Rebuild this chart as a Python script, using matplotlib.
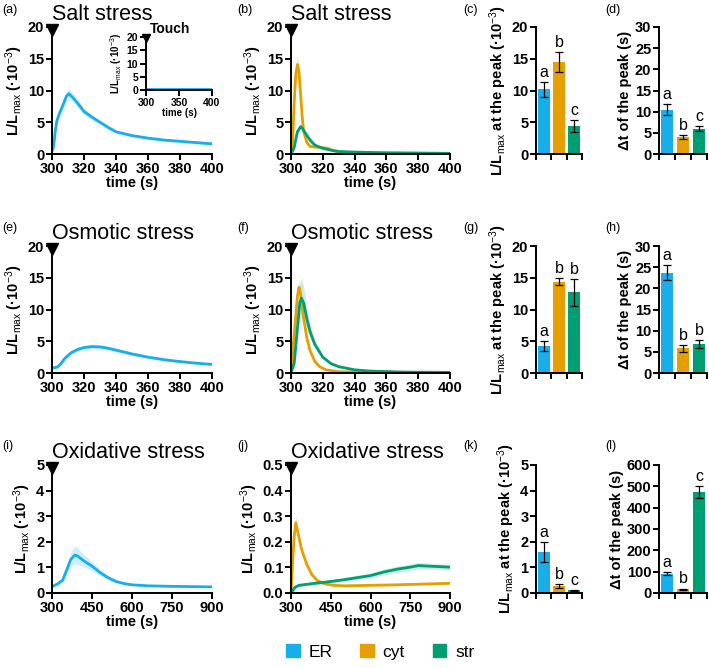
import matplotlib
matplotlib.use("Agg")
from matplotlib import pyplot as plt
from matplotlib.patches import Patch

plt.rcParams.update({
    "font.family": ["Liberation Sans", "DejaVu Sans"],
    "mathtext.fontset": "custom",
    "mathtext.rm": "Liberation Sans",
    "mathtext.bf": "Liberation Sans:bold",
    "mathtext.it": "Liberation Sans:italic",
    "axes.linewidth": 1.4,
    "xtick.major.width": 1.4,
    "ytick.major.width": 1.4,
    "xtick.major.size": 4,
    "ytick.major.size": 4,
    "xtick.major.pad": 1.5,
    "ytick.major.pad": 1.5,
    "xtick.direction": "out",
    "ytick.direction": "out",
})

W, H = 709, 668
C_ER, C_CYT, C_STR = "#17AEEA", "#E69F00", "#009E73"

# ---- time courses ----
# salt, ER
t_salt_er = [300, 301, 302, 303, 304.5, 307, 309, 310.5, 313, 316, 320, 325, 330, 335, 340, 350, 360, 370, 380, 390, 400]
salt_er = [0.4, 1.2, 3.5, 5.2, 6.3, 7.8, 9.1, 9.5, 8.9, 8.0, 6.7, 5.8, 5.0, 4.2, 3.5, 2.9, 2.5, 2.2, 2.0, 1.8, 1.6]
salt_er_sem = [0.1, 0.3, 0.5, 0.6, 0.6, 0.7, 0.8, 0.8, 0.7, 0.6, 0.5, 0.4, 0.3, 0.3, 0.2, 0.2, 0.2, 0.2, 0.2, 0.2, 0.2]
# touch (inset)
t_touch = [300, 320, 340, 360, 380, 400]
touch_er = [0.4, 0.4, 0.4, 0.4, 0.4, 0.4]
# salt, cyt / str
t_salt_cyt = [300, 301, 302, 303, 304, 305, 306, 307, 308, 310, 312, 315, 320, 323, 326, 330, 340, 360, 400]
salt_cyt = [0.0, 2.0, 8.0, 12.5, 14.1, 13.0, 9.5, 6.0, 3.5, 1.8, 1.2, 1.1, 1.0, 0.9, 0.6, 0.3, 0.15, 0.1, 0.05]
salt_cyt_sem = [0.0, 0.4, 1.0, 1.4, 1.5, 1.4, 1.0, 0.7, 0.4, 0.2, 0.2, 0.2, 0.2, 0.2, 0.1, 0.1, 0.05, 0.05, 0.05]
t_salt_str = [300, 302, 304, 306, 307, 309, 312, 315, 320, 325, 330, 340, 360, 400]
salt_str = [0.0, 1.0, 3.5, 4.3, 4.1, 3.3, 2.2, 1.4, 0.9, 0.6, 0.4, 0.3, 0.2, 0.1]
salt_str_sem = [0.0, 0.2, 0.4, 0.5, 0.5, 0.4, 0.3, 0.2, 0.1, 0.1, 0.1, 0.05, 0.05, 0.05]
# osmotic, ER
t_osm_er = [300, 303, 305, 308, 312, 316, 320, 325, 330, 335, 340, 350, 360, 370, 380, 390, 400]
osm_er = [0.8, 0.9, 1.3, 2.3, 3.2, 3.7, 4.0, 4.15, 4.1, 3.9, 3.6, 3.0, 2.5, 2.1, 1.8, 1.55, 1.35]
osm_er_sem = [0.1, 0.1, 0.2, 0.3, 0.3, 0.4, 0.4, 0.4, 0.4, 0.3, 0.3, 0.3, 0.2, 0.2, 0.2, 0.1, 0.1]
# osmotic, cyt / str
t_osm_cyt = [300, 302, 304, 305, 306, 308, 310, 312, 315, 318, 322, 330, 400]
osm_cyt = [0.5, 6.0, 12.0, 13.5, 12.5, 8.5, 5.5, 3.5, 1.8, 1.0, 0.5, 0.2, 0.05]
osm_cyt_sem = [0.1, 0.8, 1.2, 1.3, 1.2, 0.9, 0.6, 0.4, 0.2, 0.1, 0.1, 0.05, 0.05]
t_osm_str = [300, 302, 304, 305.5, 306.5, 308, 310, 312, 315, 320, 325, 330, 340, 350, 370, 400]
osm_str = [0.0, 1.5, 7.0, 11.0, 11.8, 11.0, 8.5, 6.5, 4.5, 2.5, 1.5, 1.0, 0.5, 0.3, 0.15, 0.1]
osm_str_sem = [0.0, 0.5, 2.0, 3.0, 3.2, 2.5, 1.5, 1.0, 0.6, 0.3, 0.2, 0.1, 0.1, 0.05, 0.05, 0.05]
# oxidative, ER
t_ox_er = [300, 320, 340, 355, 370, 385, 395, 420, 450, 480, 510, 540, 570, 600, 660, 750, 900]
ox_er = [0.25, 0.35, 0.5, 0.9, 1.3, 1.48, 1.45, 1.25, 1.05, 0.8, 0.6, 0.45, 0.37, 0.32, 0.28, 0.26, 0.24]
ox_er_sem = [0.03, 0.05, 0.1, 0.2, 0.3, 0.35, 0.33, 0.25, 0.18, 0.12, 0.08, 0.05, 0.04, 0.03, 0.03, 0.02, 0.02]
# oxidative, cyt / str
t_ox_cyt = [300, 305, 312, 318, 325, 340, 360, 380, 400, 430, 460, 500, 600, 700, 800, 900]
ox_cyt = [0.0, 0.1, 0.22, 0.275, 0.24, 0.17, 0.11, 0.07, 0.048, 0.035, 0.03, 0.028, 0.03, 0.032, 0.035, 0.038]
ox_cyt_sem = [0.0, 0.01, 0.02, 0.03, 0.02, 0.015, 0.01, 0.006, 0.005, 0.004, 0.004, 0.004, 0.004, 0.004, 0.005, 0.005]
t_ox_str = [300, 315, 330, 375, 450, 500, 550, 600, 650, 700, 750, 780, 820, 860, 900]
ox_str = [0.0, 0.022, 0.03, 0.036, 0.045, 0.052, 0.06, 0.068, 0.082, 0.093, 0.101, 0.107, 0.105, 0.103, 0.101]
ox_str_sem = [0.0, 0.004, 0.005, 0.006, 0.007, 0.008, 0.009, 0.01, 0.011, 0.012, 0.012, 0.012, 0.012, 0.011, 0.011]

# ---- peak summary bars: ER, cyt, str ----
compartments = ["ER", "cyt", "str"]
salt_peak = [10.2, 14.5, 4.4]
salt_peak_err = [1.2, 1.6, 1.0]
salt_peak_letters = ["a", "b", "c"]
salt_dt = [10.4, 4.0, 6.0]
salt_dt_err = [1.3, 0.4, 0.5]
salt_dt_letters = ["a", "b", "c"]
osm_peak = [4.2, 14.4, 12.7]
osm_peak_err = [0.8, 0.6, 2.1]
osm_peak_letters = ["a", "b", "b"]
osm_dt = [23.7, 5.8, 6.8]
osm_dt_err = [1.7, 0.9, 0.9]
osm_dt_letters = ["a", "b", "b"]
ox_peak = [1.6, 0.27, 0.1]
ox_peak_err = [0.4, 0.07, 0.03]
ox_peak_letters = ["a", "b", "c"]
ox_dt = [90, 18, 475]
ox_dt_err = [7, 3, 28]
ox_dt_letters = ["a", "b", "c"]

colors = [C_ER, C_CYT, C_STR]
YLAB = r"L/L$_{\rm max}$ (·10$^{-3}$)"
YLAB_PEAK = r"L/L$_{\rm max}$ at the peak (·10$^{-3}$)"
YLAB_DT = "Δt of the peak (s)"


def px_axes(fig, x0, x1, y0, y1):
    return fig.add_axes([x0 / W, 1 - y1 / H, (x1 - x0) / W, (y1 - y0) / H])


def style(ax, fs=10.5):
    ax.spines["top"].set_visible(False)
    ax.spines["right"].set_visible(False)
    for lab in ax.get_xticklabels() + ax.get_yticklabels():
        lab.set_fontweight("bold")
        lab.set_fontsize(fs)


def line_panel(ax, curves, ymax, yticks, xticks, title=None, ylabel=YLAB, fs=10.5, lfs=10.5, msize=9):
    for t, v, s, c in curves:
        lo = [a - b for a, b in zip(v, s)]
        hi = [a + b for a, b in zip(v, s)]
        ax.fill_between(t, lo, hi, color=c, alpha=0.2, lw=0)
        ax.plot(t, v, color=c, lw=2.0, solid_capstyle="butt")
    ax.set_xlim(xticks[0], xticks[-1])
    ax.set_ylim(0, ymax)
    ax.set_xticks(xticks)
    ax.set_yticks(yticks)
    ax.plot([xticks[0]], [ymax * 0.975], marker="v", color="black", ms=msize, clip_on=False, zorder=5)
    style(ax, fs)
    ax.set_xlabel("time (s)", fontsize=lfs, fontweight="bold", labelpad=0)
    ax.set_ylabel(ylabel, fontsize=lfs, fontweight="bold", labelpad=2)
    if title:
        ax.set_title(title, loc="left", fontsize=15.5, pad=5)


def bar_panel(ax, vals, errs, letters, ymax, yticks, ylabel):
    x = range(len(vals))
    ax.bar(x, vals, width=0.78, color=colors, yerr=errs, capsize=3,
           error_kw=dict(elinewidth=0.9, capthick=0.9, ecolor="black"))
    for i, (v, e, l) in enumerate(zip(vals, errs, letters)):
        ax.annotate(l, (i, v + e), xytext=(0, 1.5), textcoords="offset points",
                    ha="center", va="bottom", fontsize=11.5)
    ax.set_xlim(-0.5, 2.5)
    ax.set_xticks([-0.5, 0.5, 1.5, 2.5])
    ax.set_xticklabels([])
    ax.set_ylim(0, ymax)
    ax.set_yticks(yticks)
    style(ax)
    ax.set_ylabel(ylabel, fontsize=10.5, fontweight="bold", labelpad=2)


fig = plt.figure(figsize=(W / 100, H / 100), dpi=100)

rows = [(27, 154), (246, 373), (465, 593)]

# row 1: salt
ax = px_axes(fig, 52, 212, *rows[0])
line_panel(ax, [(t_salt_er, salt_er, salt_er_sem, C_ER)], 20, range(0, 21, 5), list(range(300, 401, 20)), "Salt stress")
ins = px_axes(fig, 146, 212, 37, 90)
line_panel(ins, [(t_touch, touch_er, [0.3] * len(touch_er), C_ER)], 20, range(0, 21, 5), [300, 350, 400],
           ylabel=YLAB, fs=7.5, lfs=7, msize=6)
ins.text(0.06, 1.02, "Touch", transform=ins.transAxes, fontsize=10, fontweight="bold", va="bottom")
ax = px_axes(fig, 291, 450, *rows[0])
line_panel(ax, [(t_salt_cyt, salt_cyt, salt_cyt_sem, C_CYT), (t_salt_str, salt_str, salt_str_sem, C_STR)],
           20, range(0, 21, 5), list(range(300, 401, 20)), "Salt stress")
bar_panel(px_axes(fig, 536, 582, *rows[0]), salt_peak, salt_peak_err, salt_peak_letters, 20, range(0, 21, 5), YLAB_PEAK)
bar_panel(px_axes(fig, 659, 707, *rows[0]), salt_dt, salt_dt_err, salt_dt_letters, 30, range(0, 31, 5), YLAB_DT)

# row 2: osmotic
ax = px_axes(fig, 52, 212, *rows[1])
line_panel(ax, [(t_osm_er, osm_er, osm_er_sem, C_ER)], 20, range(0, 21, 5), list(range(300, 401, 20)), "Osmotic stress")
ax = px_axes(fig, 291, 450, *rows[1])
line_panel(ax, [(t_osm_cyt, osm_cyt, osm_cyt_sem, C_CYT), (t_osm_str, osm_str, osm_str_sem, C_STR)],
           20, range(0, 21, 5), list(range(300, 401, 20)), "Osmotic stress")
bar_panel(px_axes(fig, 536, 582, *rows[1]), osm_peak, osm_peak_err, osm_peak_letters, 20, range(0, 21, 5), YLAB_PEAK)
bar_panel(px_axes(fig, 659, 707, *rows[1]), osm_dt, osm_dt_err, osm_dt_letters, 30, range(0, 31, 5), YLAB_DT)

# row 3: oxidative
ax = px_axes(fig, 52, 212, *rows[2])
line_panel(ax, [(t_ox_er, ox_er, ox_er_sem, C_ER)], 5, range(0, 6), list(range(300, 901, 150)), "Oxidative stress")
ax = px_axes(fig, 291, 450, *rows[2])
line_panel(ax, [(t_ox_cyt, ox_cyt, ox_cyt_sem, C_CYT), (t_ox_str, ox_str, ox_str_sem, C_STR)],
           0.5, [0, 0.1, 0.2, 0.3, 0.4, 0.5], list(range(300, 901, 150)), "Oxidative stress")
ax.set_yticklabels(["0.0", "0.1", "0.2", "0.3", "0.4", "0.5"], fontweight="bold", fontsize=10.5)
bar_panel(px_axes(fig, 536, 582, *rows[2]), ox_peak, ox_peak_err, ox_peak_letters, 5, range(0, 6), YLAB_PEAK)
bar_panel(px_axes(fig, 659, 707, *rows[2]), ox_dt, ox_dt_err, ox_dt_letters, 600, range(0, 601, 100), YLAB_DT)

# panel letters
letters_pos = [("(a)", 2, 10), ("(b)", 237, 10), ("(c)", 463, 10), ("(d)", 605, 10),
               ("(e)", 2, 228), ("(f)", 237, 228), ("(g)", 463, 228), ("(h)", 605, 228),
               ("(i)", 2, 446), ("(j)", 237, 446), ("(k)", 463, 446), ("(l)", 605, 446)]
for s, x, y in letters_pos:
    fig.text(x / W, 1 - y / H, s, fontsize=9, va="center", ha="left")

handles = [Patch(color=c) for c in colors]
fig.legend(handles, compartments, loc="center", bbox_to_anchor=(380 / W, 1 - 652 / H), ncol=3,
           frameon=False, fontsize=12.5, handlelength=0.8, handleheight=0.8,
           columnspacing=1.6, handletextpad=0.5)

fig.savefig("out.png", dpi=100)
